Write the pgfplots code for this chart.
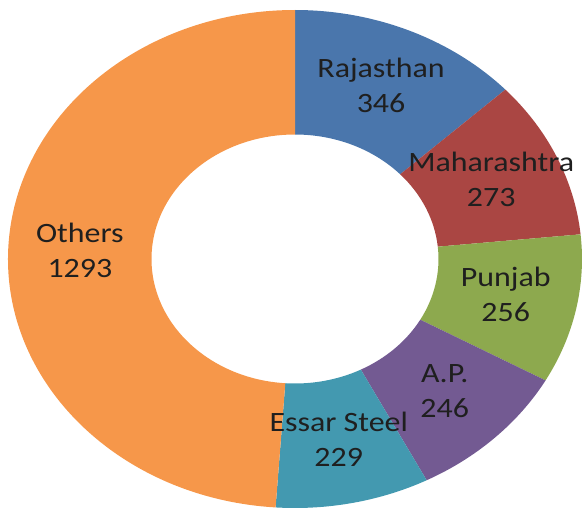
\documentclass[border=0pt]{standalone}
\usepackage{pgfplots}
\pgfplotsset{compat=1.18}
\usepackage{pgfplotstable}
\usepackage{graphicx}
\usepackage{fontspec}
\setmainfont{Carlito}

\definecolor{cRaj}{HTML}{4A76AC}
\definecolor{cMah}{HTML}{AA4643}
\definecolor{cPun}{HTML}{8DA94E}
\definecolor{cAP}{HTML}{735A92}
\definecolor{cEss}{HTML}{4399B0}
\definecolor{cOth}{HTML}{F6974A}

% slices, clockwise from the top
\pgfplotstableread[col sep=comma]{
label,value,color
Rajasthan,346,cRaj
Maharashtra,273,cMah
Punjab,256,cPun
A.P.,246,cAP
Essar Steel,229,cEss
Others,1293,cOth
}\slices

\begin{document}
\begin{tikzpicture}
\useasboundingbox (-295pt,-253pt) rectangle (288pt,259pt);
\begin{axis}[
  hide axis,
  x=287pt, y=249pt,
  xmin=-1.03, xmax=1.01,
  ymin=-1.02, ymax=1.04,
  clip=false,
  anchor=origin, at={(0,0)},
]
\pgfplotsextra{
  \pgfplotstablegetrowsof{\slices}
  \pgfmathtruncatemacro\last{\pgfplotsretval-1}
  \xdef\total{0}
  \pgfplotsforeachungrouped \i in {0,...,\last}{
    \pgfplotstablegetelem{\i}{value}\of\slices
    \pgfmathparse{\total+\pgfplotsretval}\xdef\total{\pgfmathresult}
  }
  % ring segments
  \xdef\cum{0}
  \pgfplotsforeachungrouped \i in {0,...,\last}{
    \pgfplotstablegetelem{\i}{value}\of\slices \let\v\pgfplotsretval
    \pgfplotstablegetelem{\i}{color}\of\slices \let\col\pgfplotsretval
    \pgfmathsetmacro\a{90-\cum/\total*360}
    \pgfmathsetmacro\b{90-(\cum+\v)/\total*360}
    \fill[fill=\col] (axis cs:{cos(\a)},{sin(\a)})
      arc[start angle=\a, end angle=\b, x radius=287pt, y radius=249pt]
      -- (axis cs:{0.5*cos(\b)},{0.5*sin(\b)})
      arc[start angle=\b, end angle=\a, x radius=143.5pt, y radius=124.5pt]
      -- cycle;
    \pgfmathparse{\cum+\v}\xdef\cum{\pgfmathresult}
  }
  % labels on top
  \xdef\cum{0}
  \pgfplotsforeachungrouped \i in {0,...,\last}{
    \pgfplotstablegetelem{\i}{value}\of\slices \let\v\pgfplotsretval
    \pgfplotstablegetelem{\i}{label}\of\slices \let\lab\pgfplotsretval
    \pgfmathsetmacro\m{90-(\cum+\v/2)/\total*360}
    \node[inner sep=0pt, font=\fontsize{28}{35}\selectfont, text=black!88]
      at (axis cs:{0.75*cos(\m)},{0.75*sin(\m)})
      {\scalebox{1.14}[1]{\begin{tabular}{@{}c@{}}\lab\\\v\end{tabular}}};
    \pgfmathparse{\cum+\v}\xdef\cum{\pgfmathresult}
  }
}
\end{axis}
\end{tikzpicture}
\end{document}
